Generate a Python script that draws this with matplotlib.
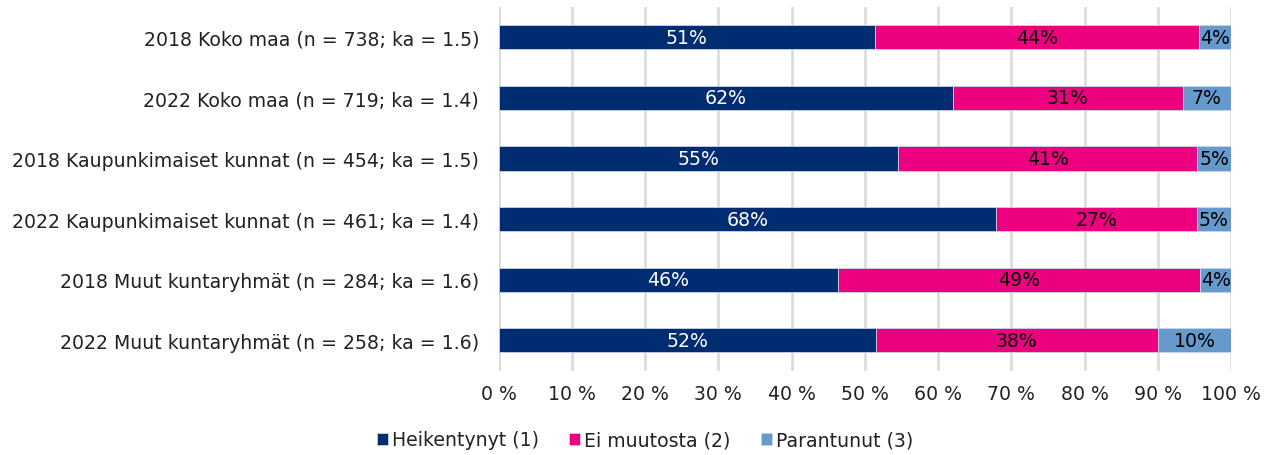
import matplotlib
matplotlib.use("Agg")
import matplotlib.pyplot as plt

categories = [
    "2018 Koko maa (n = 738; ka = 1.5)",
    "2022 Koko maa (n = 719; ka = 1.4)",
    "2018 Kaupunkimaiset kunnat (n = 454; ka = 1.5)",
    "2022 Kaupunkimaiset kunnat (n = 461; ka = 1.4)",
    "2018 Muut kuntaryhmät (n = 284; ka = 1.6)",
    "2022 Muut kuntaryhmät (n = 258; ka = 1.6)",
]
heikentynyt = [51.4, 62.0, 54.6, 67.9, 46.4, 51.5]
ei_muutosta = [44.2, 31.4, 40.8, 27.4, 49.4, 38.5]
parantunut = [4.4, 6.6, 4.6, 4.7, 4.2, 10.0]
series_names = ["Heikentynyt (1)", "Ei muutosta (2)", "Parantunut (3)"]
colors = ["#002D72", "#EC0080", "#6699CC"]
label_colors = ["white", "black", "black"]
xticks = list(range(0, 101, 10))
xticklabels = [f"{v} %" for v in xticks]

FS = 13.6
plt.rcParams["font.family"] = ["DejaVu Sans"]
fig = plt.figure(figsize=(12.72, 4.56), dpi=100)
ax = fig.add_axes([498.5 / 1272, 1 - 371.5 / 456, (1231 - 498.5) / 1272, (371.5 - 8) / 456])

y = list(range(len(categories)))
left = [0.0] * len(categories)
for vals, name, col, lc in zip([heikentynyt, ei_muutosta, parantunut], series_names, colors, label_colors):
    bars = ax.barh(y, vals, left=left, height=0.4, color=col, edgecolor="#c8d4e6",
                   linewidth=0.6, label=name, zorder=3)
    for b, v in zip(bars, vals):
        ax.text(b.get_x() + b.get_width() / 2, b.get_y() + b.get_height() / 2,
                f"{round(v):.0f}%", ha="center", va="center", color=lc, fontsize=FS, zorder=4)
    left = [l + v for l, v in zip(left, vals)]

ax.set_ylim(len(categories) - 0.5, -0.5)
ax.set_xlim(0, 100)
ax.set_yticks(y)
ax.set_yticklabels(categories, fontsize=FS, color="#222222")
ax.set_xticks(xticks)
ax.set_xticklabels(xticklabels, fontsize=FS, color="#222222")
ax.tick_params(axis="both", length=0)
ax.tick_params(axis="y", pad=14)
ax.tick_params(axis="x", pad=10)
ax.grid(axis="x", color="#D9D9D9", linewidth=1.8, zorder=0)
for s in ax.spines.values():
    s.set_visible(False)

fig.legend(loc="center", bbox_to_anchor=(645 / 1272, 1 - 441 / 456), ncol=3, frameon=False,
           fontsize=FS, handlelength=0.6, handleheight=0.6, handletextpad=0.2,
           columnspacing=1.6, labelcolor="#222222")

fig.savefig("out.png", dpi=100)
